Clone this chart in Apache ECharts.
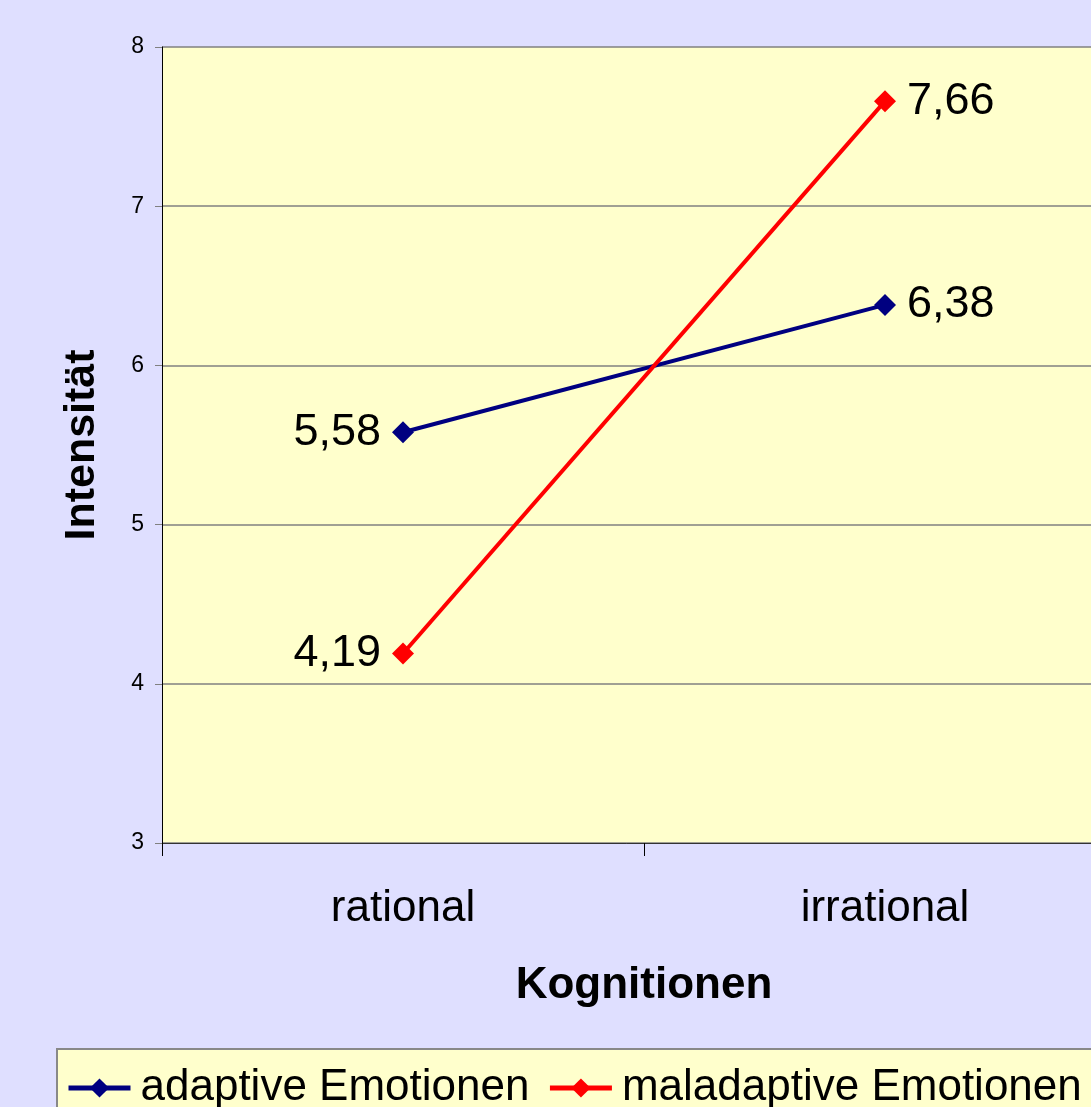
<!DOCTYPE html>
<html><head><meta charset="utf-8">
<script src="https://cdn.jsdelivr.net/npm/echarts@6/dist/echarts.min.js"></script>
<style>html,body{margin:0;padding:0;background:#DFDFFF}#c{width:1091px;height:1107px}</style>
</head><body><div id="c"></div>
<script>
const categories = ['rational', 'irrational'];
const adaptive = [5.58, 6.38];
const maladaptive = [4.19, 7.66];
const seriesNames = ['adaptive Emotionen', 'maladaptive Emotionen'];
const yTicks = [3, 4, 5, 6, 7, 8];

const FONT = 'Liberation Sans, Arial, sans-serif';
const chart = echarts.init(document.getElementById('c'));
const fmt = p => String(p.value).replace('.', ',');
function mk(name, values, color) {
  return {
    name, type: 'line',
    data: values.map((v, i) => ({value: v, label: {position: i === 0 ? 'left' : 'right'}})),
    symbol: 'diamond', symbolSize: 22,
    lineStyle: {color, width: 4}, itemStyle: {color},
    label: {show: true, distance: 11, formatter: fmt,
      fontFamily: FONT, fontSize: 45, color: '#000'},
    emphasis: {disabled: true}
  };
}
chart.setOption({
  backgroundColor: '#DFDFFF',
  animation: false,
  grid: {left: 162, top: 47, width: 964, bottom: 264, outerBoundsMode: 'none', containLabel: false,
    show: true, backgroundColor: '#FFFFCC', borderWidth: 0},
  legend: {
    left: 57, top: 1049, width: 1300, orient: 'horizontal',
    backgroundColor: '#FFFFCC', borderColor: '#888', borderWidth: 2,
    padding: [17, 60, 40, 9], itemGap: 18, itemWidth: 62, itemHeight: 24,
    lineStyle: {width: 5},
    textStyle: {fontFamily: FONT, fontSize: 44, color: '#000', padding: [0, 0, 0, 5]},
    data: seriesNames
  },
  xAxis: {
    type: 'category', data: categories, boundaryGap: true,
    axisLine: {lineStyle: {color: '#333', width: 1}},
    axisTick: {show: true, length: 13, lineStyle: {color: '#000'}},
    axisLabel: {margin: 44, fontFamily: FONT, fontSize: 44, color: '#000'},
    name: 'Kognitionen', nameLocation: 'middle', nameGap: 121,
    nameTextStyle: {fontFamily: FONT, fontSize: 44, fontWeight: 'bold', color: '#000'}
  },
  yAxis: {
    type: 'value', min: yTicks[0], max: yTicks[yTicks.length - 1], interval: 1,
    axisLine: {show: true, lineStyle: {color: '#000', width: 1}},
    axisTick: {show: true, length: 7, lineStyle: {color: '#808080'}},
    axisLabel: {margin: 18, fontFamily: FONT, fontSize: 23, color: '#000'},
    splitLine: {show: true, lineStyle: {color: '#808080', width: 1.5}},
    name: 'Intensität', nameLocation: 'middle', nameGap: 58, nameRotate: 90,
    nameTextStyle: {fontFamily: FONT, fontSize: 43, fontWeight: 'bold', color: '#000'}
  },
  series: [
    mk(seriesNames[0], adaptive, '#000080'),
    mk(seriesNames[1], maladaptive, '#FF0000')
  ]
});
</script></body></html>
